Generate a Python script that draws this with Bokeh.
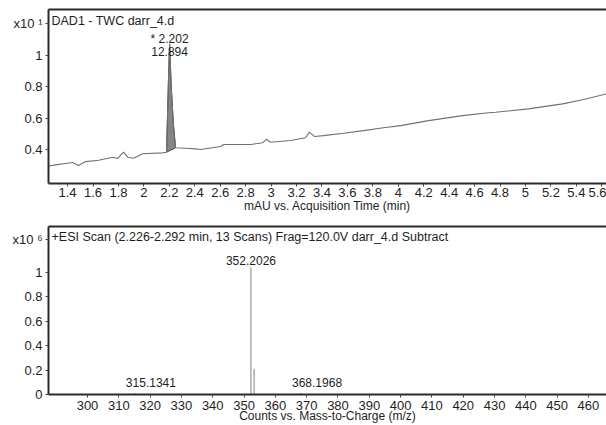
from bokeh.plotting import figure
from bokeh.layouts import column
from bokeh.models import (Label, LinearAxis, FixedTicker, CustomJSTickFormatter,
                          Range1d, ColumnDataSource)
from bokeh.embed import file_html
from bokeh.resources import INLINE

# ---------------- data ----------------
# DAD1 chromatogram (x10^1 mAU) vs acquisition time (min)
times = [1.25, 1.306, 1.384, 1.439, 1.486, 1.542, 1.644, 1.754, 1.793, 1.840,
         1.872, 1.919, 1.990, 2.147, 2.178, 2.195, 2.202, 2.215, 2.232, 2.249,
         2.328, 2.406, 2.446, 2.603, 2.626, 2.839, 2.933, 2.964, 2.996, 3.153,
         3.271, 3.302, 3.342, 3.413, 3.570, 3.727, 3.884, 4.018, 4.238, 4.505,
         4.710, 4.765, 5.024, 5.292, 5.449, 5.637]
mau = [0.295, 0.302, 0.311, 0.317, 0.298, 0.323, 0.332, 0.351, 0.343, 0.383,
       0.351, 0.344, 0.373, 0.379, 0.383, 0.900, 1.075, 0.800, 0.560, 0.411,
       0.408, 0.404, 0.400, 0.419, 0.432, 0.432, 0.443, 0.466, 0.447, 0.458,
       0.475, 0.511, 0.483, 0.489, 0.504, 0.521, 0.539, 0.553, 0.585, 0.617,
       0.635, 0.638, 0.660, 0.692, 0.718, 0.756]
peak_start, peak_end = 2.178, 2.249
peak_rt = 2.202
peak_area = "12.894"
time_ticks = [1.4, 1.6, 1.8, 2.0, 2.2, 2.4, 2.6, 2.8, 3.0, 3.2, 3.4, 3.6, 3.8,
              4.0, 4.2, 4.4, 4.6, 4.8, 5.0, 5.2, 5.4, 5.6]
mau_ticks = [0.4, 0.6, 0.8, 1.0]
mau_exp_at, mau_exp = 1.205, "x10 \u00b9"

# ESI mass spectrum (x10^6 counts) vs m/z
mz = [315.1341, 352.2026, 353.2050, 368.1968]
counts = [0.012, 1.04, 0.21, 0.012]
mz_labels = ["315.1341", "352.2026", "", "368.1968"]
mz_ticks = [300, 310, 320, 330, 340, 350, 360, 370, 380, 390, 400, 410, 420,
            430, 440, 450, 460]
count_ticks = [0, 0.2, 0.4, 0.6, 0.8, 1.0]
count_exp_at, count_exp = 1.27, "x10 \u2076"

FONT = "Liberation Sans"
TXT = "#1e1e1e"
fmt = CustomJSTickFormatter(code="return Number(tick.toFixed(2)).toString();")


def style(p, xt, yt, exp_at, exp_txt, tick_standoff, xlab_standoff):
    p.outline_line_color = None
    p.xgrid.visible = False
    p.ygrid.visible = False
    for ax in (p.xaxis[0], p.yaxis[0]):
        ax.axis_line_width = 2
        ax.axis_line_color = "#2a2a2a"
        ax.major_tick_in = 0
        ax.major_tick_out = 3
        ax.major_tick_line_color = "#444444"
        ax.minor_tick_line_color = None
        ax.major_label_text_font = FONT
        ax.major_label_text_font_size = "13px"
        ax.major_label_text_color = TXT
        ax.major_label_text_line_height = 0.9
        ax.axis_label_text_font = FONT
        ax.axis_label_text_font_size = "12px"
        ax.axis_label_text_font_style = "normal"
        ax.axis_label_text_color = TXT
        ax.axis_label_text_line_height = 0.9
        ax.formatter = fmt
    p.xaxis[0].ticker = FixedTicker(ticks=xt)
    p.yaxis[0].ticker = FixedTicker(ticks=yt + [exp_at])
    p.yaxis[0].major_label_overrides = {exp_at: exp_txt}
    p.xaxis[0].major_label_standoff = tick_standoff
    p.xaxis[0].axis_label_standoff = xlab_standoff
    p.yaxis[0].major_label_standoff = 3
    top = LinearAxis(ticker=FixedTicker(ticks=[]), axis_line_width=2,
                     axis_line_color="#2a2a2a", major_tick_out=0, major_tick_in=0,
                     major_label_standoff=0, major_label_text_font_size="0px",
                     minor_tick_line_color=None, major_tick_line_color=None)
    p.add_layout(top, "above")


def lab(p, x, y, text, size="12px", align="left"):
    p.add_layout(Label(x=x, y=y, text=text,
                       text_font=FONT, text_font_size=size, text_color=TXT,
                       text_baseline="middle", text_align=align))


# ---------------- top: chromatogram ----------------
x0, x1 = 1.25, 5.637
y0, y1 = 0.183, 1.295
p1 = figure(width=606, height=215, output_backend="svg", toolbar_location=None,
            x_range=Range1d(x0, x1), y_range=Range1d(y0, y1),
            min_border_left=48, min_border_right=0, min_border_top=9,
            min_border_bottom=32, x_axis_label="mAU vs. Acquisition Time (min)")
style(p1, time_ticks, mau_ticks, mau_exp_at, mau_exp, 1, -1)

pk_x = [t for t in times if peak_start <= t <= peak_end]
pk_y = [v for t, v in zip(times, mau) if peak_start <= t <= peak_end]
p1.patch(pk_x, pk_y, fill_color="#858585", line_color="#444444", line_width=1)
p1.line(times, mau, line_color="#707070", line_width=1.1)

pxu = (x1 - x0) / 558.0
pyu = (y1 - y0) / 174.0
lab(p1, x0 + 3 * pxu, y1 - 11 * pyu, "DAD1 - TWC darr_4.d", "12.5px")
lab(p1, peak_rt, y1 - 29 * pyu, "* %.3f" % peak_rt, "12px", "center")
lab(p1, peak_rt, y1 - 42 * pyu, peak_area, "12px", "center")

# ---------------- bottom: spectrum ----------------
m0, m1 = 287.54, 465.76
c0, c1 = 0.0, 1.376
p2 = figure(width=606, height=210, output_backend="svg", toolbar_location=None,
            x_range=Range1d(m0, m1), y_range=Range1d(c0, c1),
            min_border_left=48, min_border_right=0, min_border_top=11,
            min_border_bottom=27, x_axis_label="Counts vs. Mass-to-Charge (m/z)")
style(p2, mz_ticks, count_ticks, count_exp_at, count_exp, 3, -4)

src = ColumnDataSource(dict(x=mz, y0=[0] * len(mz), y1=counts))
p2.segment(x0="x", y0="y0", x1="x", y1="y1", source=src,
           line_color="#808080", line_width=1)

mxu = (m1 - m0) / 558.0
myu = (c1 - c0) / 172.0
x_off = [16, 0, 0, 16]
y_off = [11, 7, 0, 11]
for m, c, t, dx, dy in zip(mz, counts, mz_labels, x_off, y_off):
    if t:
        lab(p2, m + dx * mxu, c + dy * myu, t, "12px", "center")
lab(p2, m0 + 3 * mxu, c1 - 11 * myu,
    "+ESI Scan (2.226-2.292 min, 13 Scans) Frag=120.0V darr_4.d  Subtract", "12.5px")

layout = column(p1, p2, spacing=0)
open("out.html", "w").write(file_html(layout, INLINE))
